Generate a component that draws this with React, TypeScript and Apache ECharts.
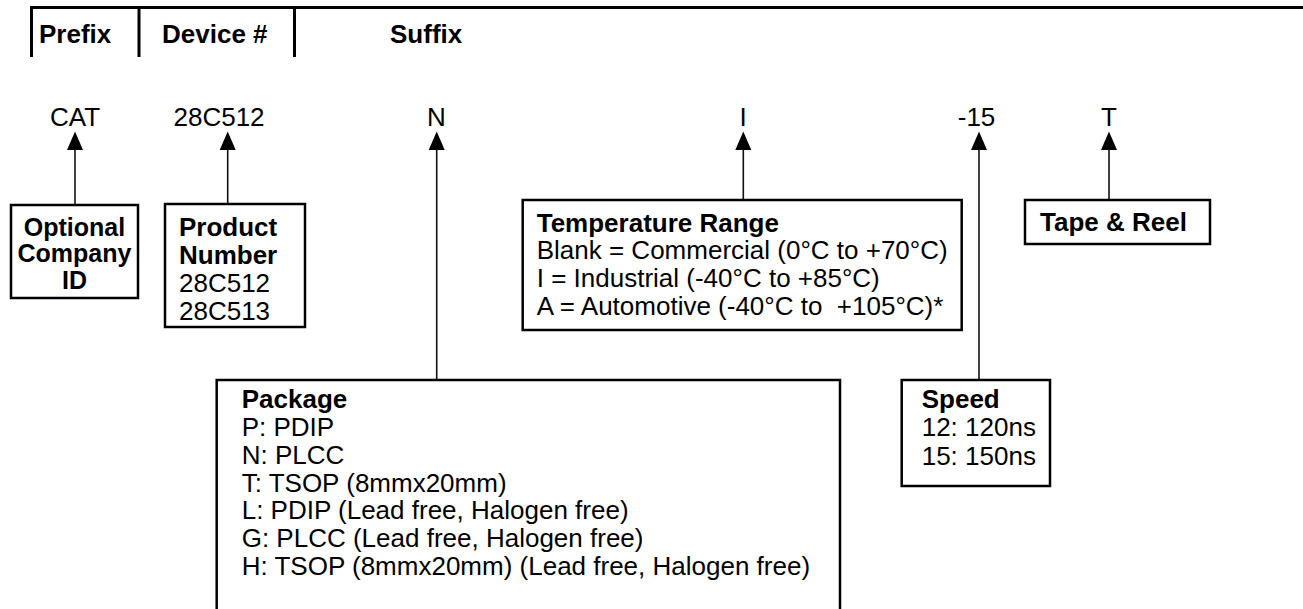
import React, { useEffect, useRef } from "react";
import * as echarts from "echarts";

// ---- content (text data) ----
const headerLabels = ["Prefix", "Device #", "Suffix"];
const partCodes = ["CAT", "28C512", "N", "I", "-15", "T"];
const companyLines = ["Optional", "Company", "ID"];
const productTitle = ["Product", "Number"];
const productOptions = ["28C512", "28C513"];
const tempTitle = "Temperature Range";
const tempOptions = [
  "Blank = Commercial (0\u00B0C to +70\u00B0C)",
  "I = Industrial (-40\u00B0C to +85\u00B0C)",
  "A = Automotive (-40\u00B0C to  +105\u00B0C)*",
];
const packageTitle = "Package";
const packageOptions = [
  "P: PDIP",
  "N: PLCC",
  "T: TSOP (8mmx20mm)",
  "L: PDIP (Lead free, Halogen free)",
  "G: PLCC (Lead free, Halogen free)",
  "H: TSOP (8mmx20mm) (Lead free, Halogen free)",
];
const speedTitle = "Speed";
const speedOptions = ["12: 120ns", "15: 150ns"];
const tapeTitle = "Tape & Reel";

// ---- layout ----
const FONT = '"Liberation Sans", Arial, Helvetica, sans-serif';
const FS = 26;

const headerX = [39, 162, 390];
const headerBase = 43;
const sepX = [31.5, 139, 294.5];
const codeX = [75, 219, 436.3, 743, 976.5, 1109];
const codeBase = 126;
const arrowX = [75, 227.7, 436.7, 743.3, 979, 1109];
const arrowEnd = [205, 204, 380, 200, 380, 200];

function txt(s: string, x: number, base: number, bold = false, align = "left", fs = FS) {
  return {
    type: "text",
    x,
    y: base - fs * 0.35,
    silent: true,
    style: {
      text: s,
      font: `${bold ? "bold " : ""}${fs}px ${FONT}`,
      fill: "#000",
      textAlign: align,
      align,
      textVerticalAlign: "middle",
      verticalAlign: "middle",
    },
  };
}

function box(x1: number, y1: number, x2: number, y2: number) {
  return {
    type: "rect",
    silent: true,
    shape: { x: x1, y: y1, width: x2 - x1, height: y2 - y1 },
    style: { fill: "none", stroke: "#000", lineWidth: 2.5 },
  };
}

export default function App() {
  const ref = useRef<HTMLDivElement>(null);
  useEffect(() => {
    if (!ref.current) return;
    const chart = echarts.init(ref.current, undefined, { renderer: "svg" });
    const els: any[] = [];

    // header
    els.push({
      type: "line",
      silent: true,
      shape: { x1: 30, y1: 7.5, x2: 1303, y2: 7.5 },
      style: { stroke: "#000", lineWidth: 3 },
    });
    sepX.forEach((x) =>
      els.push({
        type: "line",
        silent: true,
        shape: { x1: x, y1: 6, x2: x, y2: 57 },
        style: { stroke: "#000", lineWidth: 3 },
      })
    );
    headerLabels.forEach((h, i) => els.push(txt(h, headerX[i], headerBase, true)));

    // codes + arrows
    partCodes.forEach((c, i) => {
      els.push(txt(c, codeX[i], codeBase, false, "center"));
      const x = arrowX[i];
      els.push({
        type: "polygon",
        silent: true,
        shape: { points: [[x, 131.5], [x - 8, 150], [x + 8, 150]] },
        style: { fill: "#000" },
      });
      els.push({
        type: "line",
        silent: true,
        shape: { x1: x, y1: 149, x2: x, y2: arrowEnd[i] },
        style: { stroke: "#111", lineWidth: 1.6 },
      });
    });

    // company box
    els.push(box(11, 205, 138, 298));
    companyLines.forEach((l, i) => els.push(txt(l, 74.5, 235.5 + i * 26.5, true, "center", 25)));

    // product box
    els.push(box(165, 204, 305, 327));
    productTitle.forEach((l, i) => els.push(txt(l, 179, 235.7 + i * 28.1, true)));
    productOptions.forEach((l, i) => els.push(txt(l, 179, 235.7 + (i + 2) * 28.1)));

    // temperature box
    els.push(box(522.7, 200, 961.7, 330));
    els.push(txt(tempTitle, 536.7, 231.7, true));
    tempOptions.forEach((l, i) => els.push(txt(l, 536.7, 231.7 + (i + 1) * 27.8)));

    // package box
    els.push(box(216.7, 380, 840, 625));
    els.push(txt(packageTitle, 241.7, 408.3, true));
    packageOptions.forEach((l, i) => els.push(txt(l, 241.7, 408.3 + (i + 1) * 27.8)));

    // speed box
    els.push(box(901.7, 380, 1050, 486));
    els.push(txt(speedTitle, 921.7, 408, true));
    speedOptions.forEach((l, i) => els.push(txt(l, 921.7, 408 + (i + 1) * 28.5)));

    // tape box
    els.push(box(1025, 200, 1210, 244));
    els.push(txt(tapeTitle, 1040, 230.7, true));

    chart.setOption({ animation: false, graphic: { elements: els } });
    return () => chart.dispose();
  }, []);
  return (
    <div
      ref={ref}
      style={{ position: "fixed", left: 0, top: 0, width: 1303, height: 609, background: "#fff" }}
    />
  );
}
